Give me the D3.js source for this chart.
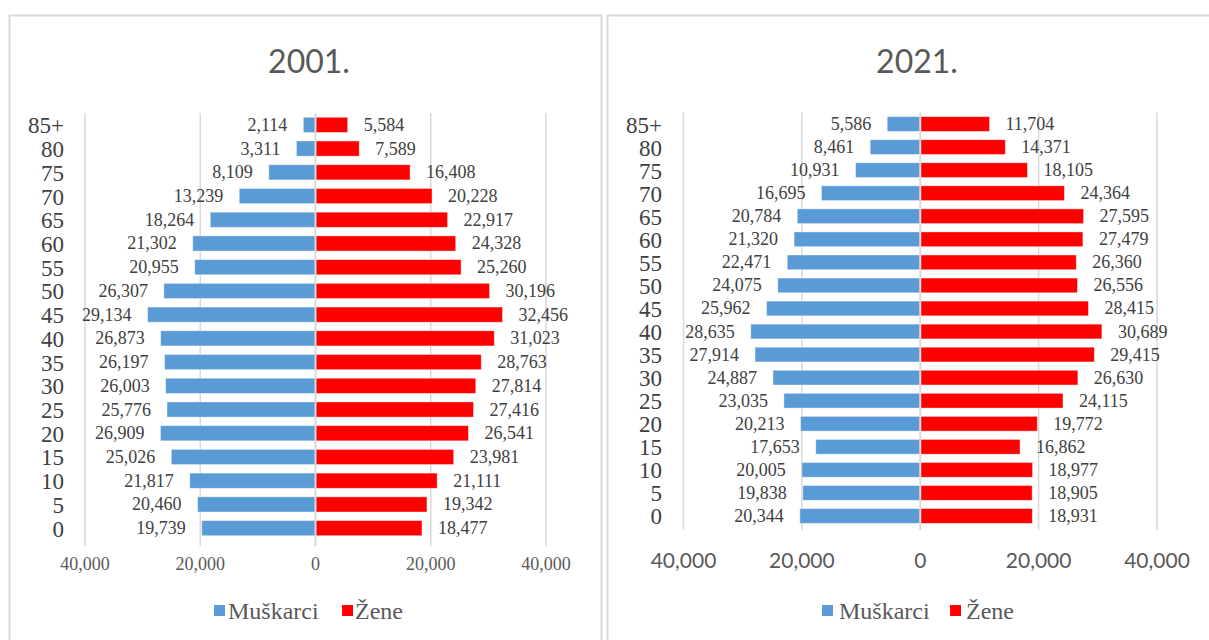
<!DOCTYPE html>
<html><head><meta charset="utf-8">
<script src="https://cdn.jsdelivr.net/npm/d3@7"></script>
<style>body{margin:0;background:#fff;}svg{display:block;}</style>
</head><body>
<svg id="c" width="1209" height="640"></svg>
<script>
const ageGroups = ["85+","80","75","70","65","60","55","50","45","40","35","30","25","20","15","10","5","0"];
const men2001 = [2114,3311,8109,13239,18264,21302,20955,26307,29134,26873,26197,26003,25776,26909,25026,21817,20460,19739];
const women2001 = [5584,7589,16408,20228,22917,24328,25260,30196,32456,31023,28763,27814,27416,26541,23981,21111,19342,18477];
const men2021 = [5586,8461,10931,16695,20784,21320,22471,24075,25962,28635,27914,24887,23035,20213,17653,20005,19838,20344];
const women2021 = [11704,14371,18105,24364,27595,27479,26360,26556,28415,30689,29415,26630,24115,19772,16862,18977,18905,18931];
const tickValues = [-40000,-20000,0,20000,40000];
const seriesNames = ["Muškarci","Žene"];
const titles = ["2001.","2021."];

const svg = d3.select("#c");
const BLUE = "#5b9bd5", RED = "#ff0000", GRID = "#d9d9d9";
const SERIF = "'Liberation Serif','Times New Roman',serif";
const SANS = "Lato,'Open Sans',sans-serif";
const fmt = d3.format(",");

const panels = [
  {box:[9,15,592,660], title:titles[0], tx:309, men:men2001, women:women2001,
   xr:[85,546], yr:[113,540], gridB:546, rowX:64, tickY:564, tickFont:SERIF, tickSize:18,
   legY:611, legX:[214,342], legOff:[14,13]},
  {box:[607,15,640,660], title:titles[1], tx:917, men:men2021, women:women2021,
   xr:[683.5,1157], yr:[112.5,527.5], gridB:530, rowX:662, tickY:559, tickFont:SANS, tickSize:21,
   legY:611, legX:[822,950], legOff:[17,16]}
];

panels.forEach(p => {
  const g = svg.append("g");
  g.append("rect").attr("x",p.box[0]+0.5).attr("y",p.box[1]+0.5).attr("width",p.box[2]).attr("height",p.box[3])
    .attr("fill","#fff").attr("stroke",GRID).attr("stroke-width",2);
  g.append("text").attr("x",p.tx).attr("y",60).attr("text-anchor","middle").attr("dominant-baseline","central")
    .attr("font-family",SANS).attr("font-size",32).attr("fill","#595959").text(p.title);

  const x = d3.scaleLinear().domain([-40000,40000]).range(p.xr);
  const y = d3.scaleBand().domain(ageGroups).range(p.yr).paddingInner(0.36).paddingOuter(0.18);

  g.selectAll(".grid").data(tickValues.filter(v=>v!==0)).join("line")
    .attr("x1",d=>x(d)).attr("x2",d=>x(d)).attr("y1",p.yr[0]).attr("y2",p.gridB)
    .attr("stroke",GRID).attr("stroke-width",1.5);

  g.selectAll(".m").data(ageGroups).join("rect")
    .attr("x",(d,i)=>x(-p.men[i])).attr("width",(d,i)=>x(0)-x(-p.men[i]))
    .attr("y",d=>y(d)).attr("height",y.bandwidth()).attr("fill",BLUE)
    .attr("stroke","#ffffff").attr("stroke-opacity",0.5).attr("stroke-width",0.8);
  g.selectAll(".w").data(ageGroups).join("rect")
    .attr("x",x(0)).attr("width",(d,i)=>x(p.women[i])-x(0))
    .attr("y",d=>y(d)).attr("height",y.bandwidth()).attr("fill",RED)
    .attr("stroke","#ffffff").attr("stroke-opacity",0.5).attr("stroke-width",0.8);

  g.append("line").attr("x1",x(0)).attr("x2",x(0)).attr("y1",p.yr[0]).attr("y2",p.gridB)
    .attr("stroke",GRID).attr("stroke-width",2);

  g.selectAll(".ml").data(ageGroups).join("text")
    .attr("x",(d,i)=>x(-p.men[i])-16).attr("y",d=>y(d)+y.bandwidth()/2)
    .attr("text-anchor","end").attr("dominant-baseline","central")
    .attr("font-family",SERIF).attr("font-size",18).attr("fill","#404040")
    .text((d,i)=>fmt(p.men[i]));
  g.selectAll(".wl").data(ageGroups).join("text")
    .attr("x",(d,i)=>x(p.women[i])+16).attr("y",d=>y(d)+y.bandwidth()/2)
    .attr("text-anchor","start").attr("dominant-baseline","central")
    .attr("font-family",SERIF).attr("font-size",18).attr("fill","#404040")
    .text((d,i)=>fmt(p.women[i]));

  g.selectAll(".rl").data(ageGroups).join("text")
    .attr("x",p.rowX).attr("y",d=>y(d)+y.bandwidth()/2+1)
    .attr("text-anchor","end").attr("dominant-baseline","central")
    .attr("font-family",SERIF).attr("font-size",23).attr("fill","#404040").text(d=>d);

  g.selectAll(".tl").data(tickValues).join("text")
    .attr("x",d=>x(d)).attr("y",p.tickY).attr("text-anchor","middle").attr("dominant-baseline","central")
    .attr("font-family",p.tickFont).attr("font-size",p.tickSize).attr("fill","#595959")
    .text(d=>fmt(Math.abs(d)));

  [BLUE,RED].forEach((c,i)=>{
    g.append("rect").attr("x",p.legX[i]).attr("y",p.legY-6).attr("width",11).attr("height",11).attr("fill",c);
    g.append("text").attr("x",p.legX[i]+p.legOff[i]).attr("y",p.legY).attr("dominant-baseline","central")
      .attr("font-family",SERIF).attr("font-size",24).attr("fill","#595959").text(seriesNames[i]);
  });
});
</script>
</body></html>
